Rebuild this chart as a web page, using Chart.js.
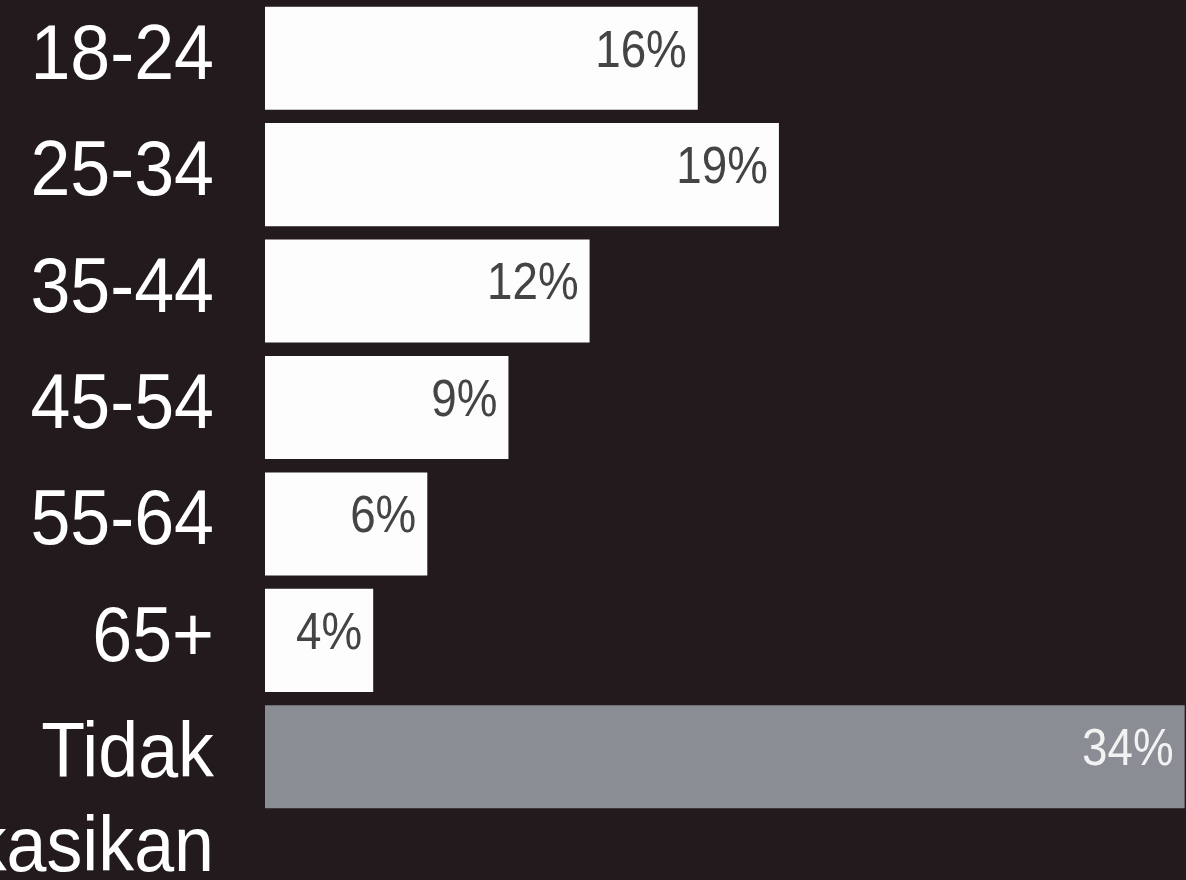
<!DOCTYPE html>
<html>
<head>
<meta charset="utf-8">
<script src="https://cdn.jsdelivr.net/npm/chart.js@4.4.0/dist/chart.umd.min.js"></script>
<style>
    html, body { margin: 0; padding: 0; background: #221a1d; overflow: hidden; }
    #wrap { width: 1186px; height: 880px; }
</style>
</head>
<body>
<div id="wrap"><canvas id="ageChart" width="1186" height="880"></canvas></div>
<script>
const ageGroups = ['18-24', '25-34', '35-44', '45-54', '55-64', '65+', ['Tidak', 'Diklasifikasikan']];
const sharePercent = [16, 19, 12, 9, 6, 4, 34];
const barColors = ['#fdfdfd', '#fdfdfd', '#fdfdfd', '#fdfdfd', '#fdfdfd', '#fdfdfd', '#8a8d94'];
const valueColors = ['#444444', '#444444', '#444444', '#444444', '#444444', '#444444', '#f2f2f2'];

const FONT = '"Liberation Sans", Roboto, sans-serif';

// teks dipersempit sedikit supaya mirip font condensed di gambar
function drawNarrowText(ctx, text, x, y, squeeze) {
    ctx.save();
    ctx.translate(x, y);
    ctx.scale(squeeze, 1);
    ctx.fillText(text, 0, 0);
    ctx.restore();
}

// label kategori digambar sendiri: baris pertama sejajar tengah bar
const categoryLabels = {
    id: 'categoryLabels',
    afterDraw(chart) {
        const ctx = chart.ctx;
        const yScale = chart.scales.y;
        const x = chart.chartArea.left - 51;
        ctx.save();
        ctx.fillStyle = '#ffffff';
        ctx.font = '78px ' + FONT;
        ctx.textAlign = 'right';
        ctx.textBaseline = 'middle';
        ageGroups.forEach((label, i) => {
            const y = yScale.getPixelForValue(i);
            const lines = Array.isArray(label) ? label : [label];
            lines.forEach((line, j) => {
                drawNarrowText(ctx, line, x, y - 1 + j * 94, 0.92);
            });
        });
        ctx.restore();
    }
};

const valueLabels = {
    id: 'valueLabels',
    afterDatasetsDraw(chart) {
        const ctx = chart.ctx;
        const meta = chart.getDatasetMeta(0);
        ctx.save();
        ctx.font = '52px ' + FONT;
        ctx.textAlign = 'right';
        ctx.textBaseline = 'middle';
        meta.data.forEach((bar, i) => {
            ctx.fillStyle = valueColors[i];
            const xEnd = Math.min(bar.x, chart.chartArea.right) - 11;
            drawNarrowText(ctx, sharePercent[i] + '%', xEnd, bar.y - 6, 0.88);
        });
        ctx.restore();
    }
};

function createAgeChart() {
    const ctx = document.getElementById('ageChart');
    if (!ctx) return;

    new Chart(ctx, {
        type: 'bar',
        data: {
            labels: ageGroups,
            datasets: [{
                data: sharePercent,
                backgroundColor: barColors,
                borderWidth: 0,
                barPercentage: 1,
                categoryPercentage: 0.885
            }]
        },
        options: {
            indexAxis: 'y',
            responsive: false,
            animation: false,
            layout: { padding: { left: 265, top: -2, bottom: 65, right: 0 } },
            plugins: { legend: { display: false }, tooltip: { enabled: false } },
            scales: {
                x: { min: 0, max: 34.05, display: false },
                y: { display: false }
            }
        },
        plugins: [categoryLabels, valueLabels]
    });
}

createAgeChart();
</script>
</body>
</html>
